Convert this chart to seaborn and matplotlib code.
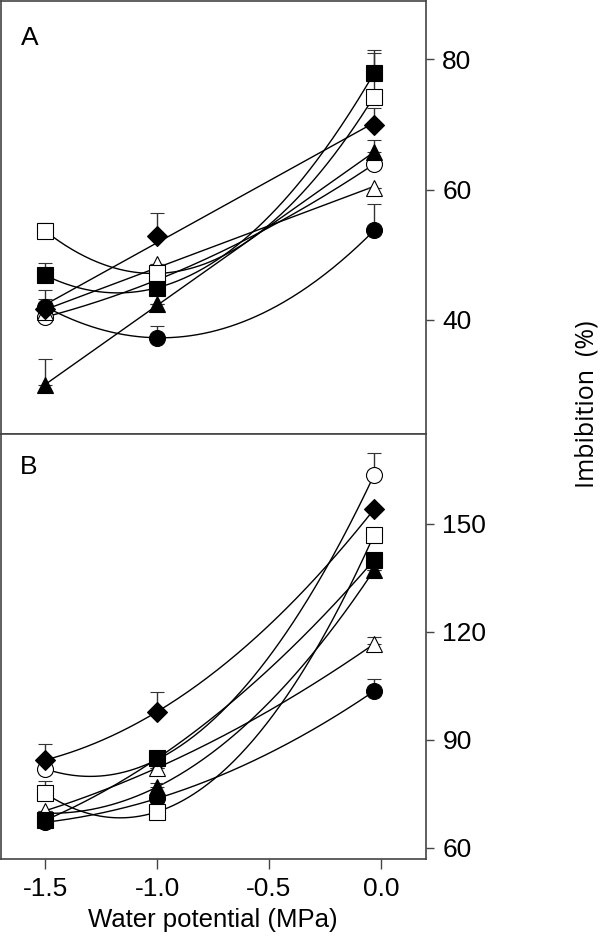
import numpy as np
import pandas as pd
import matplotlib
matplotlib.use("Agg")
import matplotlib.pyplot as plt
import seaborn as sns

# Water potential levels (MPa)
x_levels = [-1.5, -1.0, -0.03]

# Series: marker style, fill
series_names = ["filled circle", "open circle", "filled triangle", "open triangle",
                "filled square", "open square", "filled diamond"]
markers = ["o", "o", "^", "^", "s", "s", "D"]
filled = [True, False, True, False, True, False, True]

# Panel A - imbibition (%)
a_values = [
    [42.0, 37.2, 53.7],
    [40.4, 46.1, 63.9],
    [29.9, 42.4, 65.7],
    [41.2, 48.5, 60.3],
    [46.8, 44.9, 77.9],
    [53.6, 47.1, 74.3],
    [41.6, 52.9, 69.9],
]
a_err = [
    [2.6, 1.8, 4.0],
    [0.0, 0.0, 0.7],
    [4.1, 0.0, 1.9],
    [0.0, 0.0, 0.0],
    [1.9, 0.0, 3.5],
    [1.2, 0.0, 6.7],
    [1.5, 3.5, 2.7],
]
a_degree = [2, 2, 1, 1, 2, 2, 1]

# Panel B - imbibition (%)
b_values = [
    [67.1, 73.7, 103.5],
    [81.9, 84.5, 163.5],
    [69.6, 76.9, 137.1],
    [70.3, 82.2, 116.6],
    [67.7, 84.8, 139.9],
    [75.1, 70.0, 146.9],
    [84.4, 97.8, 154.0],
]
b_err = [
    [0.0, 0.0, 3.3],
    [0.0, 0.0, 6.2],
    [0.0, 1.0, 0.0],
    [0.0, 0.0, 1.8],
    [0.0, 0.0, 0.0],
    [3.5, 0.0, 0.0],
    [4.3, 5.4, 0.0],
]
b_degree = [2, 2, 2, 2, 2, 2, 2]

sns.set_theme(style="ticks")
plt.rcParams["font.family"] = ["Liberation Sans", "DejaVu Sans"]
plt.rcParams["text.color"] = "black"
plt.rcParams["xtick.labelcolor"] = "black"
plt.rcParams["ytick.labelcolor"] = "black"
plt.rcParams["axes.labelcolor"] = "black"

fig = plt.figure(figsize=(6.0, 9.46), dpi=100)
axA = fig.add_axes([0.0015, 0.5412, 0.708, 0.4578])
axB = fig.add_axes([0.0015, 0.0920, 0.708, 0.4492])


def draw_panel(ax, values, errs, degrees):
    # fitted curves
    rows = []
    xs = np.linspace(x_levels[0], x_levels[-1], 200)
    for name, vals, deg in zip(series_names, values, degrees):
        coef = np.polyfit(x_levels, vals, deg)
        for xv, yv in zip(xs, np.polyval(coef, xs)):
            rows.append({"series": name, "x": xv, "y": yv})
    fit = pd.DataFrame(rows)
    sns.lineplot(data=fit, x="x", y="y", units="series", estimator=None,
                 color="black", lw=1.0, ax=ax, zorder=2, legend=False)
    # points with upper error bars
    for mk, fl, vals, err in zip(markers, filled, values, errs):
        ms = 10 if mk == "D" else 11.5
        ax.errorbar(x_levels, vals, yerr=[np.zeros(3), err], fmt=mk,
                    ms=ms, mfc="black" if fl else "white", mec="black",
                    mew=0.8, ecolor="#333333", elinewidth=1.0, capsize=5,
                    capthick=1.0, zorder=3)
    for s in ax.spines.values():
        s.set_color("#444444")
        s.set_linewidth(1.2)
    ax.set_xlim(-1.699, 0.201)
    ax.yaxis.tick_right()
    ax.tick_params(axis="y", direction="out", length=6, width=1.0,
                   color="#444444", labelsize=19, pad=6)
    ax.set_xlabel("")
    ax.set_ylabel("")


draw_panel(axA, a_values, a_err, a_degree)
draw_panel(axB, b_values, b_err, b_degree)

axA.set_ylim(22.4, 89.0)
axA.set_yticks([40, 60, 80])
axA.set_xticks([])

axB.set_ylim(56.9, 174.9)
axB.set_yticks([60, 90, 120, 150])
axB.set_xticks([-1.5, -1.0, -0.5, 0.0])
axB.set_xticklabels(["-1.5", "-1.0", "-0.5", "0.0"])
axB.tick_params(axis="x", direction="out", length=7, width=1.0,
                color="#444444", labelsize=19, pad=6)
axB.set_xlabel("Water potential (MPa)", fontsize=18.5, labelpad=5)

axA.text(0.068, 0.915, "A", transform=axA.transAxes, fontsize=19,
         ha="center", va="center")
axB.text(0.066, 0.922, "B", transform=axB.transAxes, fontsize=19,
         ha="center", va="center")

fig.text(0.978, 0.573, "Imbibition  (%)", rotation=90, ha="center",
         va="center", fontsize=18, family=["Open Sans", "DejaVu Sans"])

fig.savefig("out.png", dpi=100)
